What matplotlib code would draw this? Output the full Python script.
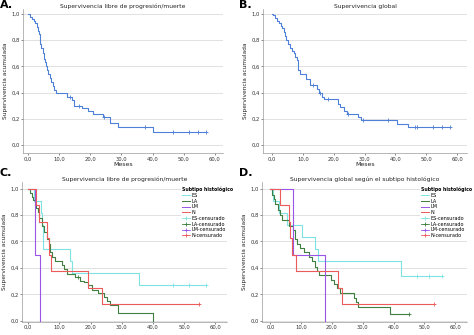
import numpy as np
import matplotlib
matplotlib.use("Agg")
import matplotlib.pyplot as plt
from matplotlib.lines import Line2D

plt.rcParams['font.family'] = ['Liberation Sans Narrow', 'DejaVu Sans']

# ---- A: progression-free survival, whole cohort
pfs_t = [0.6, 1.2, 1.8, 2.4, 2.8, 3.1, 3.4, 3.7, 4.0, 4.3, 4.7, 5.0, 5.4, 5.8, 6.1, 6.5, 7.0, 7.5,
         8.0, 8.5, 9.0, 12.4, 14.2, 14.8, 17.2, 19.4, 21.0, 24.0, 26.3, 28.8, 40.2]
pfs_s = [0.98, 0.96, 0.95, 0.93, 0.90, 0.87, 0.85, 0.81, 0.77, 0.74, 0.70, 0.66, 0.63, 0.60, 0.57,
         0.54, 0.51, 0.48, 0.45, 0.42, 0.40, 0.37, 0.34, 0.30, 0.28, 0.26, 0.24, 0.21, 0.17, 0.14, 0.10]
pfs_cens = [13.5, 16.4, 24.5, 37.6, 46.6, 51.8, 54.7, 57.1]

# ---- B: overall survival, whole cohort
os_t = [0.4, 1.0, 1.6, 2.2, 2.8, 3.4, 3.8, 4.2, 4.6, 5.1, 5.7, 6.4, 7.0, 7.6, 8.0, 8.3, 8.6, 9.0,
        10.9, 12.4, 14.6, 15.2, 16.2, 17.0, 21.3, 22.0, 23.4, 24.2, 28.0, 29.0, 40.4, 44.2]
os_s = [0.99, 0.97, 0.95, 0.93, 0.91, 0.89, 0.86, 0.83, 0.80, 0.77, 0.74, 0.72, 0.70, 0.67, 0.65,
        0.60, 0.57, 0.54, 0.50, 0.46, 0.43, 0.40, 0.37, 0.35, 0.31, 0.29, 0.26, 0.235, 0.21, 0.19,
        0.16, 0.135]
os_cens = [13.3, 15.7, 18.2, 24.5, 29.5, 37.6, 46.3, 46.9, 52.3, 55.0, 57.6]

# ---- C: PFS by histological subtype
subtypes = ["ES", "LA", "LM", "N"]
colors = {"ES": "#7fe3e3", "LA": "#3f7f3f", "LM": "#9a55e6", "N": "#ec5a5a"}

pfs_sub = {
    "ES": ([2.0, 4.2, 4.4, 4.6, 4.8, 13.4, 14.0, 35.4],
           [0.909, 0.818, 0.727, 0.636, 0.545, 0.455, 0.364, 0.273],
           [46.4, 51.4, 57.1]),
    "LA": ([0.6, 1.1, 1.6, 2.1, 2.6, 3.1, 3.6, 4.3, 5.0, 5.9, 6.5, 7.0, 7.6, 8.6, 10.7, 11.6, 12.3,
            15.0, 16.6, 18.0, 19.3, 20.3, 22.5, 24.2, 25.2, 26.3, 28.8, 40.0],
           [0.97, 0.94, 0.91, 0.88, 0.85, 0.82, 0.78, 0.72, 0.67, 0.62, 0.58, 0.52, 0.48, 0.45, 0.42,
            0.39, 0.35, 0.33, 0.30, 0.29, 0.27, 0.235, 0.21, 0.18, 0.15, 0.12, 0.06, 0.0],
           [15.8]),
    "LM": ([2.1, 3.75], [0.5, 0.0], []),
    "N": ([2.5, 3.5, 6.0, 6.8, 7.3, 19.3, 23.6],
          [0.875, 0.75, 0.625, 0.5, 0.375, 0.25, 0.125],
          [54.7]),
}

# ---- D: OS by histological subtype
os_sub = {
    "ES": ([1.0, 2.7, 5.4, 10.3, 14.4, 15.6, 42.4],
           [0.909, 0.818, 0.727, 0.636, 0.545, 0.455, 0.341],
           [47.6, 51.5, 55.7]),
    "LA": ([0.5, 1.2, 1.6, 2.5, 3.2, 3.8, 6.0, 7.4, 8.1, 8.6, 9.7, 10.8, 12.4, 13.5, 14.6, 15.1,
            15.7, 19.8, 20.8, 21.6, 22.7, 27.0, 27.8, 28.6, 38.9],
           [0.95, 0.92, 0.88, 0.84, 0.80, 0.76, 0.72, 0.69, 0.62, 0.58, 0.55, 0.52, 0.48, 0.45, 0.41,
            0.38, 0.345, 0.31, 0.28, 0.25, 0.21, 0.17, 0.14, 0.10, 0.05],
           [44.9]),
    "LM": ([7.35, 17.8], [0.5, 0.0], []),
    "N": ([3.2, 5.9, 6.4, 7.0, 8.3, 21.9, 23.1],
          [0.875, 0.75, 0.625, 0.5, 0.375, 0.25, 0.125],
          [53.2]),
}

yticks = [0.0, 0.2, 0.4, 0.6, 0.8, 1.0]
xticks = [0, 10, 20, 30, 40, 50, 60]
comma = lambda v: ("%.1f" % v).replace(".", ",")


def km(ax, times, surv, cens, color):
    end = max(times + cens) if surv[-1] > 0 else times[-1]
    x = [0.0] + list(times) + [end]
    y = [1.0] + list(surv) + [surv[-1]]
    ax.step(x, y, where="post", color=color, lw=0.8)
    if cens:
        idx = np.searchsorted(np.array(x), np.array(cens), side="right") - 1
        ax.plot(cens, np.array(y)[idx], ls="none", marker="+", ms=3, mew=0.6, color=color)


def style(ax, title, xlim, ylim, xlabel=True):
    ax.set_xlim(*xlim)
    ax.set_ylim(*ylim)
    ax.set_yticks(yticks)
    ax.set_yticklabels([comma(v) for v in yticks])
    ax.set_xticks(xticks)
    ax.set_xticklabels([comma(v) for v in xticks])
    ax.tick_params(labelsize=3.8, length=1.5, width=0.4, pad=1, colors="#333333")
    ax.grid(axis="y", color="#dcdcdc", lw=0.6)
    ax.set_axisbelow(True)
    for s in ["top", "right"]:
        ax.spines[s].set_visible(False)
    for s in ["left", "bottom"]:
        ax.spines[s].set_color("#9a9a9a")
        ax.spines[s].set_linewidth(0.5)
    ax.set_title(title, fontsize=4.3, pad=1, color="#222222")
    ax.set_ylabel("Supervivencia acumulada", fontsize=4.2, labelpad=2, color="#222222")
    if xlabel:
        ax.set_xlabel("Meses", fontsize=4.5, labelpad=0.5, color="#222222")


W, H = 474, 335
fig = plt.figure(figsize=(W / 100, H / 100), dpi=100)


def axes_px(left, top, right, bottom):
    return fig.add_axes([left / W, 1 - bottom / H, (right - left) / W, (bottom - top) / H])


blue = "#4f80d8"

axA = axes_px(23, 9, 223, 153)
km(axA, pfs_t, pfs_s, pfs_cens, blue)
style(axA, "Supervivencia libre de progresión/muerte", (-1.6, 62.6), (-0.061, 1.038))

axB = axes_px(263, 9, 467, 153)
km(axB, os_t, os_s, os_cens, blue)
style(axB, "Supervivencia global", (-2.9, 63.2), (-0.061, 1.038))

axC = axes_px(22, 182, 227, 321.5)
for k in subtypes:
    km(axC, *pfs_sub[k], colors[k])
style(axC, "Supervivencia libre de progresión/muerte", (-2.0, 63.7), (-0.006, 1.05), xlabel=False)

axD = axes_px(262, 182, 467, 321.5)
for k in subtypes:
    km(axD, *os_sub[k], colors[k])
style(axD, "Supervivencia global según el subtipo histológico", (-2.7, 63.8), (-0.006, 1.05),
      xlabel=False)

handles = [Line2D([], [], color=colors[k], lw=0.7) for k in subtypes]
handles += [Line2D([], [], color=colors[k], lw=0.6, marker="+", ms=3, mew=0.6) for k in subtypes]
labels = subtypes + [k + "-censurado" for k in subtypes]

for ax, x0 in [(axC, 181), (axD, 420)]:
    leg = ax.legend(handles, labels, title="Subtipo histológico", loc="upper left",
                    bbox_to_anchor=(x0 / W, 1 - 186 / H), bbox_transform=fig.transFigure,
                    fontsize=3.5, title_fontsize=3.3, frameon=True, framealpha=1,
                    edgecolor="none", facecolor="white", borderpad=0.15, labelspacing=0.15,
                    handlelength=1.6, handletextpad=0.4, borderaxespad=0)
    leg.get_title().set_fontweight("bold")
    leg._legend_box.align = "left"

for txt, x, y in [("A.", 0, 0), ("B.", 239, 0), ("C.", 0, 168), ("D.", 239, 168)]:
    fig.text(x / W, 1 - y / H, txt, fontsize=8, fontweight="bold", va="top", ha="left",
             family="DejaVu Sans")

fig.savefig("out.png", dpi=100)
